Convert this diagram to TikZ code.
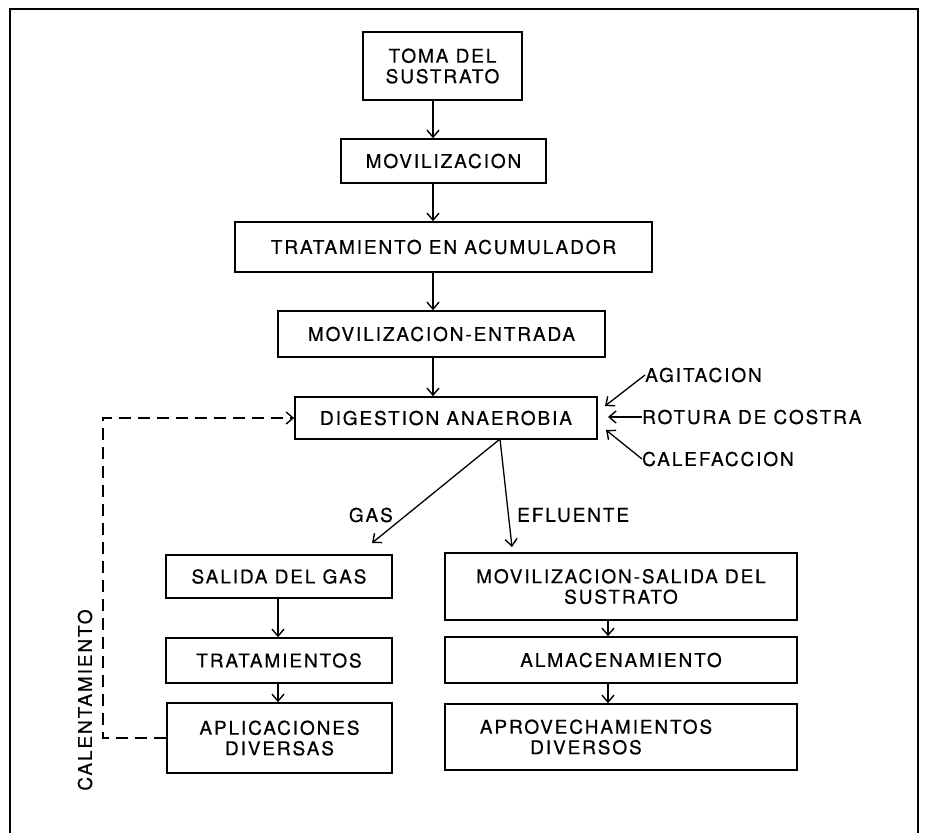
\documentclass[tikz,border=0pt]{standalone}
\usepackage{fontspec}
\setmainfont{TeX Gyre Heros}[LetterSpace=10,FakeBold=0.6]
\usetikzlibrary{arrows.meta}
\begin{document}
\begin{tikzpicture}[x=1pt,y=-1pt,
  box/.style={draw=black,line width=1.6pt,inner sep=0pt,align=center,font=\fontsize{19}{20.5}\selectfont},
  lbl/.style={inner sep=0pt,font=\fontsize{19}{20.5}\selectfont},
  arr/.style={line width=1.3pt,-{Straight Barb[length=7pt,width=12pt,line width=1.4pt]}},
  fbline/.style={line width=1.3pt,dash pattern=on 12pt off 7pt}]
\useasboundingbox (0,0) rectangle (928,833);
% frame
\draw[line width=1.6pt] (10,833) -- (10,9) -- (918,9) -- (918,833);
% main column
\node[box,minimum width=159,minimum height=68] (b1) at (442.5,66) {TOMA DEL\\SUSTRATO};
\node[box,minimum width=205,minimum height=44] (b2) at (443.5,161) {MOVILIZACION};
\node[box,minimum width=417,minimum height=50] (b3) at (443.5,247) {TRATAMIENTO EN ACUMULADOR};
\node[box,minimum width=327,minimum height=46] (b4) at (441.5,334) {MOVILIZACION-ENTRADA};
\node[box,minimum width=302,minimum height=42] (b5) at (446,418) {DIGESTION ANAEROBIA};
% gas column
\node[box,minimum width=226,minimum height=43] (g1) at (279,576.5) {SALIDA DEL GAS};
\node[box,minimum width=226,minimum height=45] (g2) at (279,660.5) {TRATAMIENTOS};
\node[box,minimum width=225,minimum height=70] (g3) at (279.5,738) {APLICACIONES\\DIVERSAS};
% effluent column
\node[box,minimum width=352,minimum height=67] (e1) at (621,586.5) {MOVILIZACION-SALIDA DEL\\SUSTRATO};
\node[box,minimum width=352,minimum height=46] (e2) at (621,660) {ALMACENAMIENTO};
\node[box,minimum width=352,minimum height=66] (e3) at (621,737) {APROVECHAMIENTOS\hspace*{50pt}\\DIVERSOS\hspace*{70pt}};
% labels
\node[lbl,anchor=west] (agi) at (645,375) {AGITACION};
\node[lbl,anchor=west] (rot) at (642,417) {ROTURA DE COSTRA};
\node[lbl,anchor=west] (cal) at (642,459) {CALEFACCION};
\node[lbl,anchor=east] (gas) at (393,515) {GAS};
\node[lbl,anchor=west] (efl) at (517,515) {EFLUENTE};
\node[lbl,rotate=90] (calen) at (85,700) {CALENTAMIENTO};
% coordinates
\coordinate (cx) at (433,0);
\coordinate (gx) at (278,0);
\coordinate (ex) at (608,0);
\coordinate (fbx) at (103,0);
\coordinate (src) at (500,439);
\coordinate (tipg) at (372,543);
\coordinate (tipe) at (512,547);
\coordinate (tA) at (605,406);
\coordinate (tR) at (608,417);
\coordinate (tC) at (606,430);
% connectors
\draw[arr] (b1.south -| cx) -- (b2.north -| cx);
\draw[arr] (b2.south -| cx) -- (b3.north -| cx);
\draw[arr] (b3.south -| cx) -- (b4.north -| cx);
\draw[arr] (b4.south -| cx) -- (b5.north -| cx);
\draw[arr] (src) -- (tipg);
\draw[arr] (src) -- (tipe);
\draw[arr] (g1.south -| gx) -- (g2.north -| gx);
\draw[arr] (g2.south -| gx) -- (g3.north -| gx);
\draw[arr] (e1.south -| ex) -- (e2.north -| ex);
\draw[arr] (e2.south -| ex) -- (e3.north -| ex);
\draw[arr] (agi.west) -- (tA);
\draw[arr] (rot.west) -- (tR);
\draw[arr] (cal.west) -- (tC);
\draw[fbline,arr] (g3.west) -- (g3.west -| fbx) -- (b5.west -| fbx) -- (b5.west);
\end{tikzpicture}
\end{document}
